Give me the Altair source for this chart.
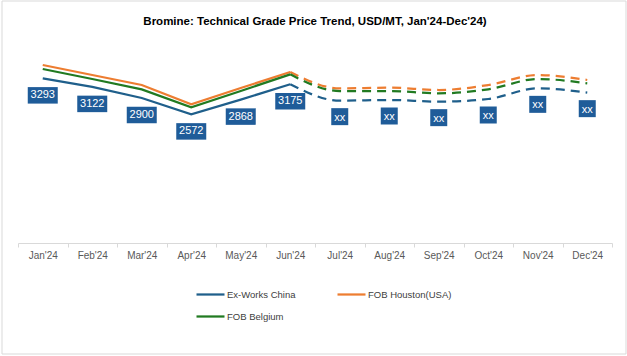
import altair as alt
import pandas as pd

months = ["Jan'24", "Feb'24", "Mar'24", "Apr'24", "May'24", "Jun'24",
          "Jul'24", "Aug'24", "Sep'24", "Oct'24", "Nov'24", "Dec'24"]
series_names = ["Ex-Works China", "FOB Houston(USA)", "FOB Belgium"]
china = [3293, 3122, 2900, 2572, 2868, 3175, 2847, 2860, 2827, 2880, 3093, 3007]
houston = [3560, 3360, 3160, 2773, 3100, 3420, 3093, 3107, 3060, 3160, 3360, 3260]
belgium = [3480, 3280, 3073, 2713, 3040, 3373, 3040, 3040, 2993, 3073, 3280, 3193]
china_labels = ["3293", "3122", "2900", "2572", "2868", "3175",
                "xx", "xx", "xx", "xx", "xx", "xx"]
colors = ["#1f5f8b", "#ed7d31", "#217a21"]

rows = []
for name, vals in zip(series_names, [china, houston, belgium]):
    for i, (m, v) in enumerate(zip(months, vals)):
        rows.append({"month": m, "series": name, "value": v, "idx": i})
df = pd.DataFrame(rows)
solid = df[df.idx <= 5]
dashed = df[df.idx >= 5]
lab = pd.DataFrame({"month": months, "value": china, "label": china_labels,
                    "idx": list(range(12))})
lab_num = lab[lab.idx <= 5]
lab_xx = lab[lab.idx >= 6]

FONT = "Liberation Sans Narrow, Liberation Sans, Arial"
W, H = 594, 200

x = alt.X("month:N", sort=months, title=None,
          axis=alt.Axis(labelAngle=0, labelFont=FONT, labelFontSize=10,
                        labelColor="#595959", domainColor="#d9d9d9",
                        tickColor="#d9d9d9", tickBand="extent", tickSize=4,
                        labelPadding=3, grid=False))
y = alt.Y("value:Q", scale=alt.Scale(domain=[0, 4000], nice=False),
          axis=None)
cscale = alt.Scale(domain=series_names, range=colors)
color = alt.Color("series:N", scale=cscale, sort=series_names,
                  legend=alt.Legend(title=None, orient="none", legendX=177,
                                    legendY=236, columns=2, direction="horizontal",
                                    symbolType="stroke",
                                    symbolSize=784, symbolStrokeWidth=2.25,
                                    labelFont=FONT, labelFontSize=9.5,
                                    labelColor="#404040", labelOffset=1,
                                    columnPadding=37, rowPadding=2))

solid_lines = alt.Chart(solid).mark_line(strokeWidth=2.25).encode(
    x=x, y=y, color=color, detail="series:N")
dashed_lines = alt.Chart(dashed).mark_line(
    strokeWidth=2.25, strokeDash=[9, 6], interpolate="monotone").encode(
    x=x, y=y, color=alt.Color("series:N", scale=cscale, sort=series_names,
                              legend=None), detail="series:N")

box_path = "M-1,-0.55H1V0.55H-1Z"
num_boxes = alt.Chart(lab_num).mark_point(
    shape=box_path, size=900, filled=True, opacity=1, color="#1f5c99",
    yOffset=17).encode(x=x, y=y)
xx_boxes = alt.Chart(lab_xx).mark_point(
    shape="square", size=289, filled=True, opacity=1, color="#1f5c99",
    yOffset=16).encode(x=x, y=y)
texts = alt.Chart(lab).mark_text(
    color="white", font=FONT, fontSize=11, baseline="middle",
    yOffset=17).encode(x=x, y=y, text="label:N")

frame = alt.Chart(alt.Data(values=[{}])).mark_rect(
    fill=None, stroke="#d9d9d9", strokeWidth=1).encode(
    x=alt.value(-16), x2=alt.value(W + 14), y=alt.value(-42), y2=alt.value(H + 111))

chart = alt.layer(frame, solid_lines, dashed_lines, num_boxes, xx_boxes, texts).properties(
    width=W, height=H,
    title=alt.TitleParams("Bromine: Technical Grade  Price Trend, USD/MT, Jan'24-Dec'24)",
                          font=FONT, fontSize=11.5, fontWeight="bold", color="#000000",
                          anchor="middle", offset=-27),
    padding={"left": 18, "top": 43, "right": 15, "bottom": 113},
    autosize=alt.AutoSizeParams(type="none"),
    background="white",
).configure_view(stroke=None)

chart.save("out.html", embed_options={"renderer": "svg", "actions": False})
